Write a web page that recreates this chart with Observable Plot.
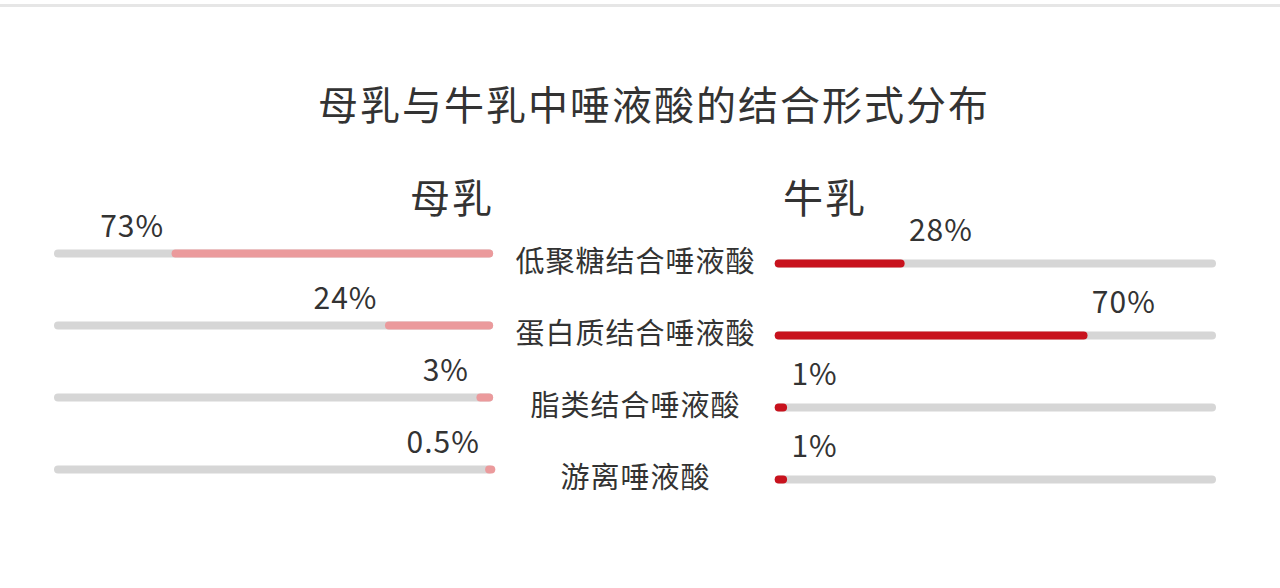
<!DOCTYPE html>
<html><head><meta charset="utf-8">
<script src="https://cdn.jsdelivr.net/npm/d3@7"></script>
<script src="https://cdn.jsdelivr.net/npm/@observablehq/plot@0.6"></script>
<style>
body{margin:0;background:#fff;font-family:"Noto Sans CJK SC","Noto Sans",sans-serif;}
#top{height:3px;background:#e6e6e6;margin-top:4px}
#title{height:69px;padding-top:74px;line-height:44px;font-size:40px;letter-spacing:2px;color:#333;text-align:center;padding-left:28px;}
#chart svg{display:block;overflow:visible}
</style></head><body>
<div id="top"></div>
<div id="title">母乳与牛乳中唾液酸的结合形式分布</div>
<div id="chart"></div>
<script>
const categories = ["低聚糖结合唾液酸","蛋白质结合唾液酸","脂类结合唾液酸","游离唾液酸"];
const humanMilk = [73, 24, 3, 0.5];
const cowMilk = [28, 70, 1, 1];
const humanLabels = ["73%","24%","3%","0.5%"];
const cowLabels = ["28%","70%","1%","1%"];
const panelTitles = ["母乳","牛乳"];

const gap = 65;
const grey = "#d6d6d6", pink = "#eb9a9c", red = "#c8121d", ink = "#333";
const left = categories.map((c,i)=>({cat:c, v:humanMilk[i], label:humanLabels[i]}));
const right = categories.map((c,i)=>({cat:c, v:cowMilk[i], label:cowLabels[i]}));

const plot = Plot.plot({
  width:1280, height:448,
  marginLeft:58, marginRight:68, marginTop:108, marginBottom:122,
  x:{domain:[-100, gap+100], axis:null},
  y:{type:"point", domain:categories, padding:0, axis:null},
  style:{fontFamily:'"Noto Sans CJK SC","Noto Sans",sans-serif', background:"#fff", overflow:"visible"},
  marks:[
    Plot.ruleY(left, {y:"cat", x1:-100, x2:-1, stroke:grey, strokeWidth:8, strokeLinecap:"round", dy:-6}),
    Plot.ruleY(left, {y:"cat", x1:d=>-d.v, x2:-1, stroke:pink, strokeWidth:8, strokeLinecap:"round", dy:-6}),
    Plot.ruleY(right, {y:"cat", x1:gap+0.5, x2:gap+100, stroke:grey, strokeWidth:8, strokeLinecap:"round", dy:4}),
    Plot.ruleY(right, {y:"cat", x1:gap+0.5, x2:d=>gap+0.5+d.v, stroke:red, strokeWidth:8, strokeLinecap:"round", dy:4}),
    Plot.text(categories, {y:d=>d, x:gap/2, text:d=>d, fontSize:29, fill:ink, textAnchor:"middle", dy:3, ariaDescription:"cat"}),
    Plot.text(left, {y:"cat", x:d=>-d.v, text:"label", fontSize:30, fill:ink, textAnchor:"end", dx:-12, dy:-32, ariaDescription:"pct"}),
    Plot.text(right, {y:"cat", x:d=>gap+d.v, text:"label", fontSize:30, fill:ink, textAnchor:"start", dx:10, dy:-28, ariaDescription:"pct"}),
    Plot.text([panelTitles[0]], {x:0, frameAnchor:"top", text:d=>d, fontSize:40, fill:ink, textAnchor:"end", dy:-74, ariaDescription:"head"}),
    Plot.text([panelTitles[1]], {x:gap, frameAnchor:"top", text:d=>d, fontSize:40, fill:ink, textAnchor:"start", dx:6, dy:-74, ariaDescription:"head"})
  ]
});
document.getElementById("chart").appendChild(plot);
d3.select(plot).selectAll('g[aria-description="cat"] text').style("letter-spacing","1px");
d3.select(plot).selectAll('g[aria-description="head"] text').style("letter-spacing","2px");
d3.select(plot).selectAll('g[aria-description="pct"] text').style("letter-spacing","1px");
</script>
</body></html>
